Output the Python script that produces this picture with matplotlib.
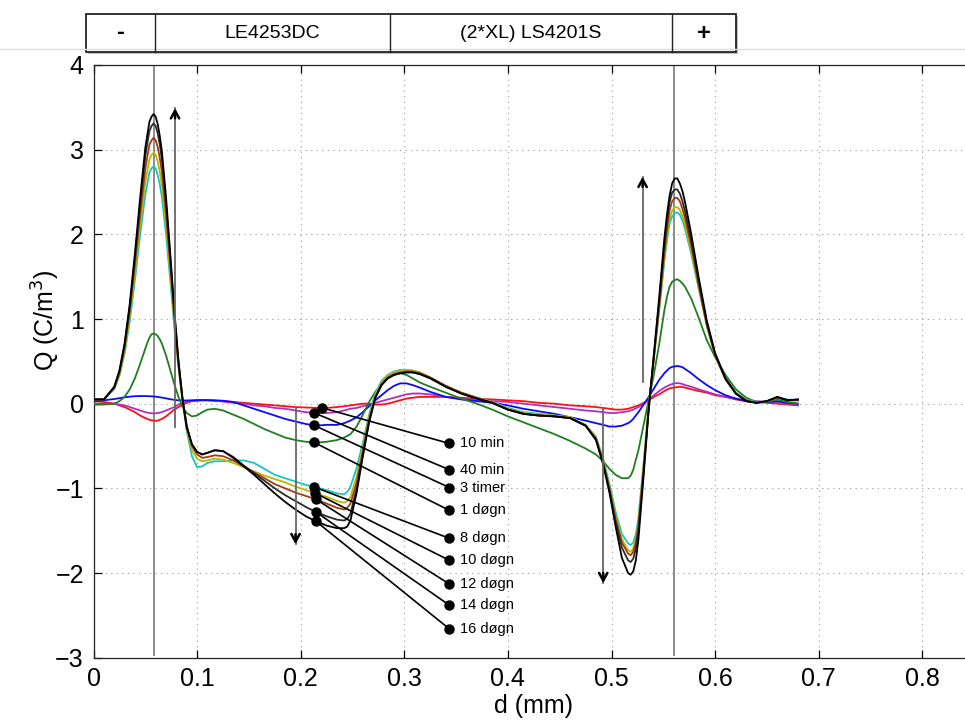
import numpy as np
import matplotlib
matplotlib.use('Agg')
import matplotlib.pyplot as plt
from matplotlib.patches import Rectangle
from matplotlib.lines import Line2D

plt.rcParams['font.family'] = ['Liberation Sans', 'DejaVu Sans']

# ---------------- data ----------------
d_mm = [0, 0.01, 0.02, 0.025, 0.03, 0.035, 0.04, 0.045, 0.05, 0.052, 0.054, 0.056, 0.058, 0.060, 0.062, 0.064, 0.066, 0.07, 0.074, 0.078, 0.082,
        0.086, 0.09, 0.095, 0.1, 0.105, 0.11, 0.117, 0.125, 0.135, 0.145, 0.155, 0.165, 0.175, 0.185, 0.195, 0.205, 0.215, 0.225, 0.235, 0.242, 0.245,
        0.248, 0.254, 0.26, 0.266, 0.272, 0.278, 0.284, 0.29, 0.296, 0.302, 0.308, 0.315,
        0.325, 0.34, 0.355, 0.37, 0.385, 0.4, 0.415, 0.43, 0.445, 0.46, 0.475,
        0.485, 0.492, 0.498, 0.504, 0.51, 0.516, 0.5185, 0.521, 0.5235, 0.526, 0.531, 0.536, 0.541, 0.546, 0.551, 0.5535, 0.556, 0.5585,
        0.561, 0.5635, 0.566, 0.5685, 0.571, 0.577, 0.584, 0.592, 0.6,
        0.61, 0.62, 0.63, 0.64, 0.65, 0.66, 0.67, 0.68]

q_10min = [0.03, 0.02, 0.00, -0.02, -0.04, -0.07, -0.10, -0.14, -0.17, -0.18, -0.19, -0.197, -0.20, -0.202, -0.20, -0.19, -0.18, -0.15, -0.11, -0.07, -0.04,
           -0.01, 0.01, 0.03, 0.035, 0.04, 0.04, 0.035, 0.03, 0.02, 0.01, 0.00, -0.01, -0.02, -0.03, -0.04, -0.045, -0.05, -0.05, -0.04, -0.03, -0.025,
           -0.02, -0.01, 0.00, 0.00, -0.01, -0.01, 0.00, 0.02, 0.04, 0.06, 0.07, 0.08,
           0.08, 0.08, 0.07, 0.06, 0.05, 0.04, 0.03, 0.01, 0.00, -0.02, -0.03,
           -0.04, -0.05, -0.06, -0.07, -0.07, -0.06, -0.05, -0.04, -0.03, -0.02, 0.01, 0.04, 0.08, 0.11, 0.15, 0.165, 0.18, 0.187,
           0.19, 0.197, 0.20, 0.197, 0.19, 0.17, 0.15, 0.13, 0.10,
           0.08, 0.05, 0.03, 0.02, 0.01, 0.00, -0.01, -0.02]

q_40min = [0.00, 0.00, 0.00, -0.01, -0.02, -0.04, -0.06, -0.08, -0.10, -0.105, -0.11, -0.113, -0.115, -0.113, -0.11, -0.105, -0.10, -0.08, -0.06, -0.04, -0.01,
           0.01, 0.025, 0.035, 0.04, 0.04, 0.04, 0.035, 0.025, 0.01, 0.00, -0.02, -0.03, -0.05, -0.06, -0.08, -0.10, -0.11, -0.11, -0.10, -0.08, -0.07,
           -0.06, -0.05, -0.03, -0.01, 0.01, 0.03, 0.05, 0.07, 0.09, 0.11, 0.12, 0.12,
           0.11, 0.08, 0.06, 0.04, 0.03, 0.02, 0.00, -0.02, -0.04, -0.06, -0.08,
           -0.09, -0.10, -0.11, -0.11, -0.10, -0.09, -0.08, -0.07, -0.055, -0.04, 0.00, 0.05, 0.10, 0.15, 0.19, 0.205, 0.22, 0.232,
           0.24, 0.243, 0.24, 0.232, 0.22, 0.20, 0.17, 0.14, 0.11,
           0.08, 0.06, 0.04, 0.03, 0.02, 0.01, 0.00, -0.01]

q_3timer = [0.03, 0.04, 0.055, 0.065, 0.075, 0.083, 0.088, 0.09, 0.09, 0.089, 0.088, 0.087, 0.085, 0.083, 0.08, 0.076, 0.072, 0.063, 0.053, 0.045, 0.04,
            0.038, 0.038, 0.04, 0.042, 0.043, 0.042, 0.04, 0.035, 0.02, -0.02, -0.06, -0.10, -0.14, -0.18, -0.21, -0.24, -0.26, -0.25, -0.25, -0.23, -0.215,
            -0.20, -0.16, -0.10, -0.03, 0.04, 0.10, 0.16, 0.21, 0.24, 0.24, 0.22, 0.19,
            0.14, 0.08, 0.05, 0.03, 0.01, -0.02, -0.06, -0.09, -0.12, -0.16, -0.20,
            -0.23, -0.25, -0.27, -0.27, -0.26, -0.23, -0.21, -0.18, -0.14, -0.10, -0.01, 0.08, 0.18, 0.28, 0.36, 0.39, 0.42, 0.435,
            0.44, 0.445, 0.44, 0.43, 0.41, 0.36, 0.29, 0.22, 0.16,
            0.10, 0.06, 0.03, 0.02, 0.02, 0.03, 0.01, 0.00]

q_1dogn = [-0.01, -0.01, 0.00, 0.03, 0.08, 0.17, 0.30, 0.47, 0.65, 0.72, 0.78, 0.82, 0.83, 0.82, 0.80, 0.76, 0.71, 0.57, 0.40, 0.23, 0.08,
           -0.04, -0.11, -0.15, -0.14, -0.10, -0.07, -0.06, -0.08, -0.13, -0.18, -0.24, -0.30, -0.35, -0.40, -0.43, -0.45, -0.46, -0.45, -0.43, -0.40, -0.38,
           -0.36, -0.27, -0.13, 0.02, 0.14, 0.23, 0.30, 0.34, 0.36, 0.34, 0.30, 0.25,
           0.20, 0.13, 0.06, 0.00, -0.07, -0.15, -0.22, -0.29, -0.36, -0.44, -0.53,
           -0.60, -0.68, -0.77, -0.84, -0.88, -0.88, -0.85, -0.78, -0.66, -0.55, -0.25, 0.05, 0.35, 0.70, 1.10, 1.26, 1.38, 1.44,
           1.46, 1.47, 1.45, 1.42, 1.38, 1.24, 1.02, 0.75, 0.55,
           0.34, 0.17, 0.07, 0.02, 0.02, 0.05, 0.02, 0.00]

q_8dogn = [0.05, 0.05, 0.17, 0.33, 0.59, 0.97, 1.46, 1.99, 2.47, 2.60, 2.73, 2.78, 2.80, 2.78, 2.70, 2.59, 2.44, 2.00, 1.47, 0.91, 0.43,
           0.03, -0.32, -0.62, -0.75, -0.74, -0.70, -0.68, -0.68, -0.67, -0.67, -0.70, -0.77, -0.84, -0.88, -0.92, -0.96, -0.99, -1.02, -1.06, -1.07, -1.04,
           -0.98, -0.76, -0.46, -0.13, 0.12, 0.27, 0.34, 0.38, 0.40, 0.40, 0.39, 0.37,
           0.31, 0.21, 0.13, 0.07, 0.02, -0.05, -0.10, -0.12, -0.14, -0.16, -0.25,
           -0.39, -0.65, -0.95, -1.28, -1.54, -1.65, -1.67, -1.64, -1.54, -1.35, -0.70, -0.01, 0.55, 1.10, 1.68, 1.92, 2.12, 2.21,
           2.25, 2.26, 2.23, 2.16, 2.06, 1.77, 1.37, 0.92, 0.58,
           0.30, 0.13, 0.05, 0.02, 0.03, 0.07, 0.05, 0.04]

q_10dogn = [0.05, 0.05, 0.18, 0.34, 0.62, 1.03, 1.54, 2.11, 2.62, 2.75, 2.88, 2.94, 2.96, 2.94, 2.86, 2.74, 2.58, 2.11, 1.55, 0.97, 0.45,
            0.02, -0.30, -0.55, -0.65, -0.68, -0.67, -0.65, -0.66, -0.70, -0.75, -0.80, -0.85, -0.89, -0.93, -0.98, -1.02, -1.06, -1.10, -1.15, -1.17, -1.15,
            -1.10, -0.86, -0.51, -0.16, 0.10, 0.25, 0.33, 0.37, 0.39, 0.40, 0.39, 0.37,
            0.31, 0.21, 0.13, 0.07, 0.02, -0.06, -0.11, -0.13, -0.14, -0.16, -0.25,
            -0.40, -0.67, -0.98, -1.33, -1.60, -1.73, -1.75, -1.71, -1.60, -1.40, -0.72, -0.02, 0.55, 1.12, 1.72, 1.97, 2.18, 2.28,
            2.32, 2.32, 2.29, 2.21, 2.11, 1.80, 1.38, 0.92, 0.57,
            0.29, 0.12, 0.04, 0.01, 0.03, 0.07, 0.04, 0.04]

q_12dogn = [0.05, 0.05, 0.19, 0.36, 0.66, 1.09, 1.64, 2.23, 2.77, 2.92, 3.06, 3.11, 3.14, 3.11, 3.03, 2.90, 2.74, 2.24, 1.65, 1.02, 0.47,
            0.04, -0.26, -0.50, -0.60, -0.64, -0.63, -0.61, -0.62, -0.67, -0.74, -0.81, -0.88, -0.95, -1.00, -1.05, -1.09, -1.13, -1.18, -1.23, -1.25, -1.23,
            -1.18, -0.93, -0.56, -0.19, 0.08, 0.23, 0.31, 0.35, 0.37, 0.38, 0.38, 0.36,
            0.31, 0.21, 0.13, 0.07, 0.01, -0.07, -0.12, -0.14, -0.15, -0.17, -0.26,
            -0.41, -0.69, -1.00, -1.36, -1.64, -1.77, -1.79, -1.75, -1.64, -1.44, -0.76, -0.04, 0.55, 1.15, 1.78, 2.05, 2.28, 2.39,
            2.43, 2.43, 2.39, 2.30, 2.19, 1.86, 1.41, 0.93, 0.57,
            0.29, 0.12, 0.04, 0.01, 0.03, 0.07, 0.04, 0.04]

q_14dogn = [0.05, 0.05, 0.19, 0.38, 0.69, 1.14, 1.72, 2.35, 2.92, 3.08, 3.22, 3.28, 3.31, 3.28, 3.19, 3.06, 2.88, 2.36, 1.73, 1.08, 0.49,
            0.05, -0.27, -0.48, -0.57, -0.60, -0.58, -0.55, -0.56, -0.63, -0.73, -0.82, -0.91, -1.00, -1.08, -1.15, -1.22, -1.28, -1.33, -1.37, -1.38, -1.36,
            -1.30, -1.00, -0.60, -0.21, 0.07, 0.22, 0.30, 0.34, 0.36, 0.37, 0.37, 0.35,
            0.30, 0.20, 0.12, 0.06, 0.01, -0.07, -0.12, -0.14, -0.15, -0.17, -0.26,
            -0.42, -0.70, -1.02, -1.40, -1.70, -1.85, -1.87, -1.83, -1.71, -1.50, -0.80, -0.05, 0.57, 1.20, 1.86, 2.14, 2.38, 2.49,
            2.53, 2.53, 2.48, 2.39, 2.27, 1.92, 1.45, 0.95, 0.58,
            0.29, 0.12, 0.03, 0.01, 0.03, 0.08, 0.04, 0.05]

q_16dogn = [0.05, 0.05, 0.20, 0.39, 0.71, 1.18, 1.78, 2.43, 3.02, 3.18, 3.33, 3.39, 3.42, 3.39, 3.30, 3.16, 2.98, 2.44, 1.79, 1.11, 0.51,
            0.05, -0.28, -0.48, -0.57, -0.60, -0.58, -0.55, -0.56, -0.64, -0.74, -0.84, -0.95, -1.06, -1.16, -1.25, -1.33, -1.39, -1.44, -1.47, -1.47, -1.45,
            -1.38, -1.05, -0.62, -0.22, 0.07, 0.22, 0.30, 0.34, 0.36, 0.37, 0.37, 0.35,
            0.30, 0.20, 0.12, 0.06, 0.01, -0.07, -0.12, -0.14, -0.15, -0.17, -0.26,
            -0.43, -0.72, -1.05, -1.45, -1.82, -2.00, -2.02, -1.98, -1.85, -1.60, -0.85, -0.05, 0.60, 1.25, 1.95, 2.23, 2.45, 2.60,
            2.66, 2.66, 2.60, 2.51, 2.38, 2.00, 1.50, 0.98, 0.60,
            0.30, 0.12, 0.03, 0.01, 0.03, 0.08, 0.04, 0.05]

series_labels = ['10 min', '40 min', '3 timer', '1 døgn', '8 døgn', '10 døgn', '12 døgn', '14 døgn', '16 døgn']
series_values = [q_10min, q_40min, q_3timer, q_1dogn, q_8dogn, q_10dogn, q_12dogn, q_14dogn, q_16dogn]
series_colors = ['#ff1010', '#b22fc2', '#0a0aff', '#1f7f1f', '#1cc2c2', '#b8b800', '#a33a10', '#2b2b2b', '#000000']

x_ticks = [0, 0.1, 0.2, 0.3, 0.4, 0.5, 0.6, 0.7, 0.8]
y_ticks = [-3, -2, -1, 0, 1, 2, 3, 4]
x_tick_labels = ['0', '0.1', '0.2', '0.3', '0.4', '0.5', '0.6', '0.7', '0.8']
y_tick_labels = ['\u22123', '\u22122', '\u22121', '0', '1', '2', '3', '4']

header_cells = ['-', 'LE4253DC', '(2*XL) LS4201S', '+']

for q in series_values:
    assert len(q) == len(d_mm)

# ---------------- figure ----------------
W, H = 965, 722
fig = plt.figure(figsize=(W / 100, H / 100), dpi=100)
fig.patch.set_facecolor('white')

# light separator line across the top of the figure
fig.add_artist(Line2D([0, 1], [1 - 48.5 / H, 1 - 48.5 / H], color='#dcdcdc', lw=1.0, transform=fig.transFigure))

ax = fig.add_axes([93.5 / W, 1 - 657.7 / H, 880.6 / W, 592.7 / H])
ax.set_xlim(0, 0.85)
ax.set_ylim(-3, 4)

for q, c in zip(series_values, series_colors):
    ax.plot(d_mm, q, color=c, lw=1.3, zorder=3, solid_joinstyle='round')

# electrode interfaces
for xv in [0.0587, 0.5605]:
    ax.plot([xv, xv], [-2.97, 4], color='#8c8c8c', lw=1.4, zorder=2)

# trend arrows
arrows = [(0.0787, -0.27, 3.49), (0.195, -0.05, -1.66), (0.492, -0.05, -2.12), (0.530, 0.26, 2.68)]
for xa, y0, y1 in arrows:
    ax.plot([xa, xa], [y0, y1], color='#666666', lw=1.3, zorder=4)
    sgn = 1 if y1 > y0 else -1
    ax.annotate('', xy=(xa, y1), xytext=(xa, y1 - sgn * 0.12),
                arrowprops=dict(arrowstyle='->,head_length=0.55,head_width=0.3', color='black', lw=1.8,
                                shrinkA=0, shrinkB=0), zorder=5)

# labels with leader lines
anchor_x = [0.221, 0.213, 0.213, 0.213, 0.213, 0.214, 0.2145, 0.2145, 0.2145]
text_y = [-0.47, -0.78, -0.99, -1.26, -1.59, -1.85, -2.13, -2.38, -2.66]
text_x = 0.3435
for lab, q, ax_x, ty in zip(series_labels, series_values, anchor_x, text_y):
    ay = float(np.interp(ax_x, d_mm, q))
    ax.plot([ax_x, text_x], [ay, ty], color='black', lw=1.2, zorder=6)
    ax.plot([ax_x, text_x], [ay, ty], 'o', color='black', ms=6.5, zorder=7)
    ax.text(text_x + 0.0105, ty, lab, fontsize=10.5, va='center', ha='left', zorder=7)

ax.set_xticks(x_ticks)
ax.set_xticklabels(x_tick_labels)
ax.set_yticks(y_ticks)
ax.set_yticklabels(y_tick_labels)
ax.tick_params(direction='in', length=6, width=0.9, top=True, right=True, labelsize=18, pad=7, colors='black')
ax.grid(True, linestyle=(0, (1, 4)), color='#9a9a9a', lw=0.8)
for s in ax.spines.values():
    s.set_linewidth(0.9)
    s.set_color('#222222')

ax.set_xlabel('d (mm)', fontsize=18)
ax.set_ylabel('Q (C/m$^3$)', fontsize=18)
ax.xaxis.set_label_coords(0.5, -0.062)
ax.yaxis.set_label_coords(-0.036, 0.57)

# header box
def fx(px):
    return px / W

def fy(py):
    return 1 - py / H

bx0, bx1, by0, by1 = 86, 736, 14, 52
fig.add_artist(Rectangle((fx(bx0 + 2), fy(by1 + 2)), fx(bx1 - bx0), (by1 - by0) / H, transform=fig.transFigure,
                         facecolor='#9a9a9a', edgecolor='none', alpha=0.6))
fig.add_artist(Rectangle((fx(bx0), fy(by1)), fx(bx1 - bx0), (by1 - by0) / H, transform=fig.transFigure,
                         facecolor='white', edgecolor='#222222', lw=1.3))
dividers = [155, 390, 672]
for dv in dividers:
    fig.add_artist(Line2D([fx(dv), fx(dv)], [fy(by0), fy(by1)], color='#222222', lw=1.0, transform=fig.transFigure))
edges = [bx0] + dividers + [bx1]
for i, txt in enumerate(header_cells):
    cx = (edges[i] + edges[i + 1]) / 2
    if txt in ('-', '+'):
        fig.text(fx(cx), fy(33), txt, fontsize=17, fontweight='bold', ha='center', va='center')
    else:
        fig.text(fx(cx), fy(33), txt, fontsize=14, ha='center', va='center')

fig.savefig('out.png', dpi=100)
